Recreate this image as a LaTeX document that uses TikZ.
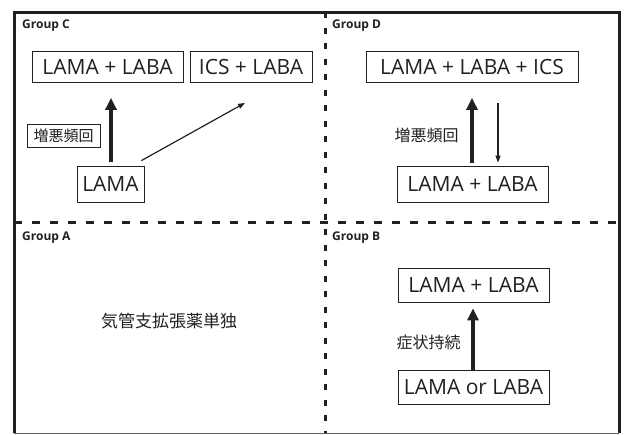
\documentclass[tikz,border=0pt]{standalone}
\usepackage{fontspec}
\setmainfont{Open Sans}
\newfontfamily\jp{Noto Sans CJK JP}
\usetikzlibrary{arrows.meta,calc}
\definecolor{ink}{HTML}{231F20}
\tikzset{
  frame/.style={line width=3pt,draw=ink},
  hdivider/.style={line width=3pt,draw=ink,dash pattern=on 8pt off 10pt},
  vdivider/.style={line width=3pt,draw=ink,dash pattern=on 6pt off 9.5pt},
  drugbox/.style={draw=ink,line width=0.8pt,inner sep=0pt,font=\fontsize{21}{23}\selectfont,text=ink},
  jlabel/.style={inner sep=0pt,font=\jp\fontsize{16}{18}\selectfont,text=ink},
  grouplabel/.style={anchor=west,inner sep=0pt,font=\fontsize{12}{14}\selectfont\bfseries,text=ink},
  thick arrow/.style={line width=4pt,draw=ink,-{Triangle[length=12pt,width=11pt]}},
  thin arrow/.style={line width=1.2pt,draw=ink,-{Triangle[length=7pt,width=5pt]}}
}
\begin{document}
\begin{tikzpicture}[x=1pt,y=-1pt]
\useasboundingbox (0,0) rectangle (631,434);
% outer frame
\draw[frame] (14,433) -- (14,12) -- (619,12) -- (619,433);
\draw[line width=1pt,draw=ink!70] (14,433) -- (619,433);
% dividers
\draw[hdivider] (14,222) -- (619,222);
\draw[vdivider] (325,12) -- (325,433);
% group labels
\node[grouplabel] (gC) at (22,26) {Group C};
\node[grouplabel] (gD) at (332,26) {Group D};
\node[grouplabel] (gA) at (22,238) {Group A};
\node[grouplabel] (gB) at (332,238) {Group B};
% Group C
\node[drugbox,minimum width=151pt,minimum height=31pt] (c1) at (107.5,67) {LAMA + LABA};
\node[drugbox,minimum width=122pt,minimum height=31pt] (c2) at (251,67) {ICS + LABA};
\node[drugbox,minimum width=67pt,minimum height=36pt] (c3) at (110.5,184) {LAMA};
\node[draw=ink,line width=0.8pt,inner sep=0pt,minimum width=73pt,minimum height=23pt,font=\jp\fontsize{15}{17}\selectfont,text=ink] (cl) at (63.5,135.5) {増悪頻回};
\coordinate (cs) at ($(c3.north)+(0.5,-4)$);
\draw[thick arrow] (cs) -- ($(cs |- c1.south)+(0,15)$);
\coordinate (ct0) at ($(c3.north east)+(-3,-5)$);
\coordinate (ct1) at ($(c2.south)+(-6,20)$);
\draw[thin arrow] (ct0) -- (ct1);
% Group D
\node[drugbox,minimum width=212pt,minimum height=31pt] (d1) at (472,67) {LAMA + LABA + ICS};
\node[drugbox,minimum width=151pt,minimum height=36pt] (d2) at (472.5,184) {LAMA + LABA};
\node[jlabel] (dl) at (426.5,135) {増悪頻回};
\draw[thick arrow] ($(d2.north)+(-0.5,-3)$) -- ($(d1.south)+(0,15)$);
\draw[thin arrow] ($(d1.south)+(26,20)$) -- ($(d2.north)+(25.5,-3)$);
% Group A
\node[jlabel,font=\jp\fontsize{17}{19}\selectfont] (al) at (169,321) {気管支拡張薬単独};
% Group B
\node[drugbox,minimum width=151pt,minimum height=34pt] (b1) at (473.5,285) {LAMA + LABA};
\node[drugbox,minimum width=151pt,minimum height=34pt] (b2) at (473.5,387) {LAMA or LABA};
\node[jlabel] (bl) at (428.5,342) {症状持続};
\draw[thick arrow] ($(b2.north)+(-0.5,0)$) -- ($(b1.south)+(-0.5,6)$);
\end{tikzpicture}
\end{document}
